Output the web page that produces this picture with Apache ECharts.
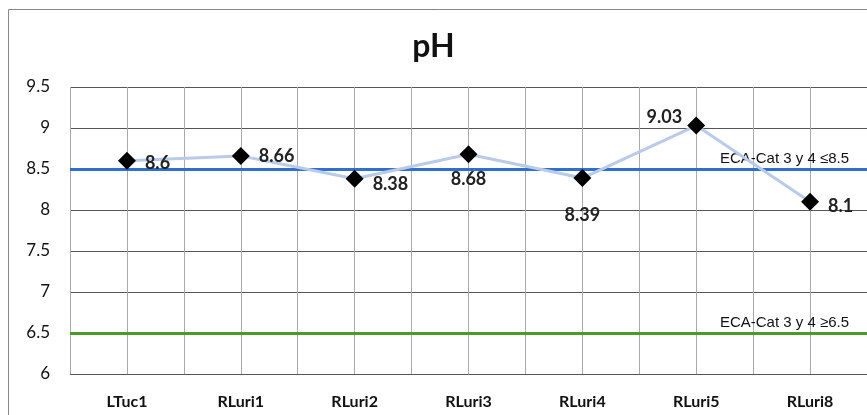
<!DOCTYPE html>
<html><head><meta charset="utf-8">
<script src="https://cdn.jsdelivr.net/npm/echarts@6/dist/echarts.min.js"></script>
<style>html,body{margin:0;padding:0;background:#fff}#c{width:867px;height:415px}</style>
</head><body><div id="c"></div>
<script>
var categories = ['LTuc1','RLuri1','RLuri2','RLuri3','RLuri4','RLuri5','RLuri8'];
var phValues = [8.6, 8.66, 8.38, 8.68, 8.39, 9.03, 8.1];
var limitUpper = 8.5;
var limitLower = 6.5;
var limitUpperLabel = 'ECA-Cat 3 y 4 \u22648.5';
var limitLowerLabel = 'ECA-Cat 3 y 4 \u22656.5';
var yTicks = [6, 6.5, 7, 7.5, 8, 8.5, 9, 9.5];

var labelPos = ['right','right','right','bottom','bottom','left','right'];
var labelOffset = [[0,2],[0,0],[0,5],[0,-2],[0,10],[4,-8],[0,4]];

var chart = echarts.init(document.getElementById('c'));
var font = 'Lato, "Open Sans", sans-serif';
var narrow = '"Liberation Sans Narrow", "Liberation Sans", sans-serif';
chart.setOption({
  animation: false,
  title: {text: 'pH', left: 'center', top: 26,
    textStyle: {fontFamily: font, fontSize: 32, fontWeight: 'bold', color: '#111'}},
  graphic: [{type: 'rect', shape: {x: 8.5, y: 9.5, width: 880, height: 420},
    style: {fill: 'none', stroke: '#888', lineWidth: 1}, silent: true, z: -10}],
  grid: {left: 70, right: -1, top: 87, bottom: 41},
  xAxis: [{
    type: 'category', data: categories, boundaryGap: true,
    axisLine: {show: false}, axisTick: {show: false},
    axisLabel: {fontFamily: font, fontSize: 16, fontWeight: 'bold', color: '#111', margin: 20},
    splitLine: {show: true, lineStyle: {color: '#555', width: 1}}
  }, {
    type: 'value', min: 0, max: 14, interval: 1, show: true,
    axisLine: {show: false}, axisTick: {show: false}, axisLabel: {show: false},
    splitLine: {show: true, lineStyle: {color: '#aaa', width: 1}}
  }],
  yAxis: {
    type: 'value', min: yTicks[0], max: yTicks[yTicks.length-1], interval: 0.5,
    axisLine: {show: false}, axisTick: {show: false},
    axisLabel: {fontFamily: font, fontSize: 17, color: '#111', margin: 20},
    splitLine: {show: true, lineStyle: {color: '#555', width: 1}}
  },
  series: [{
    type: 'line',
    data: phValues.map(function(v, i){
      return {value: v, label: {position: labelPos[i], offset: labelOffset[i]}};
    }),
    symbol: 'diamond', symbolSize: 18,
    itemStyle: {color: '#000'},
    lineStyle: {color: '#b9cbe9', width: 3},
    label: {show: true, fontFamily: font, fontSize: 18, fontWeight: 'bold', color: '#222', distance: 9},
    z: 5,
    markLine: {
      silent: true, symbol: 'none', animation: false,
      data: [
        {yAxis: limitUpper, lineStyle: {color: '#2f6fcf', width: 3, type: 'solid'},
         label: {formatter: limitUpperLabel, position: 'insideEndTop', distance: [18, 3],
           fontFamily: narrow, fontSize: 15, color: '#111'}},
        {yAxis: limitLower, lineStyle: {color: '#4a9a2a', width: 3, type: 'solid'},
         label: {formatter: limitLowerLabel, position: 'insideEndTop', distance: [18, 3],
           fontFamily: narrow, fontSize: 15, color: '#111'}}
      ]
    }
  }]
});
</script></body></html>
